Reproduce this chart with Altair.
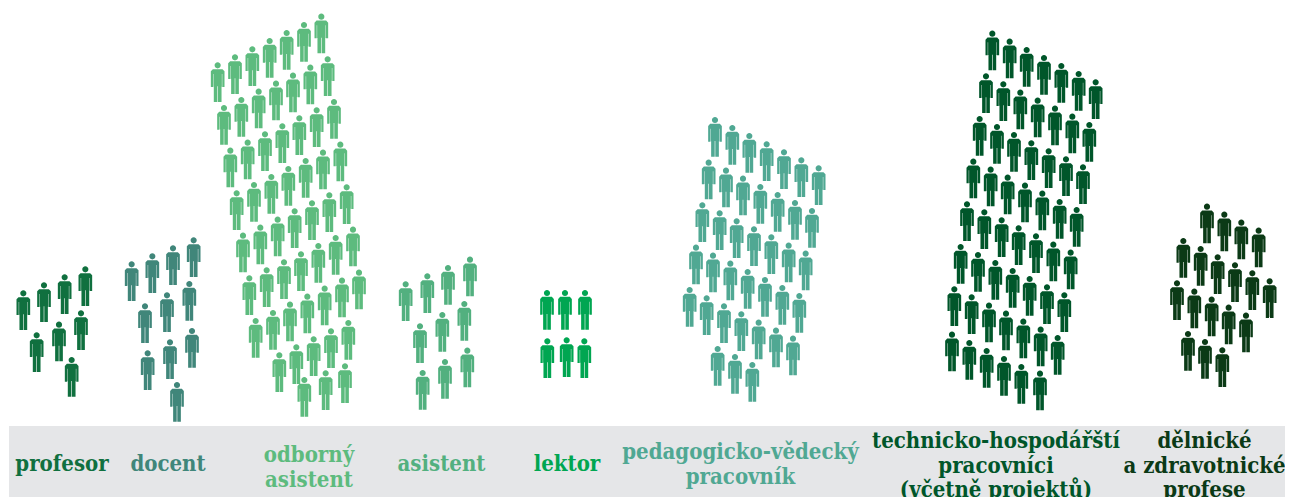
import altair as alt
import pandas as pd

# Categories, label lines, colours
categories = ["profesor", "docent", "odborný asistent", "asistent", "lektor",
              "pedagogicko-vědecký pracovník", "technicko-hospodářští pracovníci", "dělnické a zdravotnické profese"]
colors = ["#10703F", "#40867A", "#5DBB7E", "#52B07F", "#00A651", "#50A893", "#00562A", "#0B3A16"]

label_lines = [
    ("profesor", 62, 471), ("docent", 168, 471),
    ("odborný", 309, 462), ("asistent", 309, 487),
    ("asistent", 441.5, 471), ("lektor", 567, 471),
    ("pedagogicko-vědecký", 740.5, 459), ("pracovník", 740.5, 484),
    ("technicko-hospodářští", 996, 448), ("pracovníci", 996, 472.5), ("(včetně projektů)", 996, 497),
    ("dělnické", 1204.5, 448), ("a zdravotnické", 1204.5, 472.5), ("profese", 1204.5, 497),
]
label_cat = [0, 1, 2, 2, 3, 4, 5, 5, 6, 6, 6, 7, 7, 7]

profesor = ((0, 230), [(70,190),(132,166),(194,142),(256,118),(110,316),(177,284),(243,250),(215,390)])
docent = ((0, 230), [(395,103),(457,79),(519,55),(581,31),(435,229),(501,196),(568,162),(443,370),(510,337),(576,303),(531,465)])
odborny_a = ((200, 0), [(53,196),(105,172),(157,148),(209,123),(260,99),(312,75),(364,50),
                        (72,324),(124,300),(176,275),(228,251),(279,227),(331,203),(383,178),
                        (91,452),(143,428),(195,403),(247,379),(298,355),(350,331),(402,306),
                        (110,580),(162,555),(214,531),(265,507),(317,483),(369,458),(421,434)])
odborny_b = ((220, 205), [(69,92),(121,68),(173,44),(224,19),(276,-5),(328,-29),(380,-53),
                          (88,220),(140,196),(192,172),(243,148),(295,123),(347,99),(399,74),
                          (107,348),(159,324),(210,299),(262,275),(314,251),(366,227),(417,203),
                          (178,451),(229,427),(281,403),(333,379),(385,354),
                          (253,525),(317,505),(375,484)])
asistent = ((390, 250), [(47,103),(112,79),(174,54),(240,29),(90,229),(157,195),(223,162),(98,369),(165,336),(232,302)])
lektor = ((390, 250), [(471,129),(525,129),(585,129),(472,274),(530,271),(583,274)])
pedagog_a = ((670, 110), [(135,30),(187,54),(238,78),(290,103),(342,127),(394,151),(446,175),
                          (116,158),(168,182),(219,206),(271,231),(323,255),(375,279),(426,303),
                          (97,286),(149,310),(200,334),(252,358),(304,382),(356,407),(407,431)])
pedagog_b = ((670, 250), [(78,-7),(129,17),(181,41),(233,66),(285,90),(337,114),(388,138),
                          (59,120),(110,145),(162,169),(214,193),(266,218),(318,242),(369,266),
                          (143,297),(195,321),(247,345)])
technik_a = ((940, 20), [(157,41),(209,65),(260,90),(312,114),(364,138),(416,162),(467,187),
                         (138,169),(190,193),(241,218),(293,242),(345,266),(397,290),(448,315),
                         (119,297),(171,321),(222,345),(274,370),(326,394),(378,418),(429,442),
                         (100,425),(152,449),(203,473),(255,497),(307,521),(359,546),(410,570)])
technik_b = ((940, 210), [(81,-17),(133,7),(185,31),(236,55),(288,79),(340,104),(392,128),
                          (62,111),(114,135),(166,159),(218,183),(269,207),(321,232),(373,256),
                          (43,238),(95,262),(147,287),(198,311),(250,335),(302,359),(353,384),
                          (36,374),(88,399),(140,423),(192,447),(244,471),(300,491)])
delnicke = ((1160, 195), [(141,35),(193,59),(244,83),(296,107),
                          (70,138),(122,162),(173,187),(225,211),(277,235),(329,259),
                          (51,265),(103,290),(155,314),(206,338),(258,362),
                          (84,417),(135,441),(187,466)])

groups = [(0, profesor), (1, docent), (2, odborny_a), (2, odborny_b), (3, asistent), (4, lektor),
          (5, pedagog_a), (5, pedagog_b), (6, technik_a), (6, technik_b), (7, delnicke)]

rows = []
for cat, ((ox, oy), pts) in groups:
    for zx, zy in pts:
        rows.append({"cat": categories[cat], "x": ox + zx / 3, "y": oy + zy / 3 + 17})
people = pd.DataFrame(rows)

labels = pd.DataFrame([
    {"text": t, "x": x, "y": y, "cat": categories[c]}
    for (t, x, y), c in zip(label_lines, label_cat)
])
band = pd.DataFrame([{"x": 9, "x2": 1285, "y": 426, "y2": 497}])

# Pictogram of a standing person, unit square [-1, 1]
k = 1 / 60
def P(x, y):
    return f"{x*k:.4f},{y*k:.4f}"
hr, hy, c = 9.2, -51, 5.1
head = (f"M{P(0,hy-hr)}C{P(c,hy-hr)} {P(hr,hy-c)} {P(hr,hy)}C{P(hr,hy+c)} {P(c,hy+hr)} {P(0,hy+hr)}"
        f"C{P(-c,hy+hr)} {P(-hr,hy+c)} {P(-hr,hy)}C{P(-hr,hy-c)} {P(-c,hy-hr)} {P(0,hy-hr)}Z")
def side(s):
    return [(s*14.5,-39.5),(s*20.5,-33),(s*20.5,14),(s*13.8,14),(s*13.8,-25),(s*12.6,-25),
            (s*12.6,13),(s*11.6,13),(s*11.6,59),(s*0.9,59),(s*0.9,12)]
right = side(1)
left = [(-x, y) for x, y in reversed(side(1))]
body = "M" + "L".join(P(x, y) for x, y in right + left) + "Z"
PERSON = head + body

color_scale = alt.Scale(domain=categories, range=colors)
X = alt.Scale(domain=[8, 1285], range=[0, 1277])
Y = alt.Scale(domain=[8, 497], range=[0, 489])

band_layer = alt.Chart(band).mark_rect(color="#E5E6E8").encode(
    x=alt.X("x:Q", scale=X, axis=None), x2="x2:Q",
    y=alt.Y("y:Q", scale=Y, axis=None), y2="y2:Q")

people_layer = alt.Chart(people).mark_point(shape=PERSON, filled=True, size=1600, opacity=1, strokeWidth=0).encode(
    x=alt.X("x:Q", scale=X, axis=None),
    y=alt.Y("y:Q", scale=Y, axis=None),
    color=alt.Color("cat:N", scale=color_scale, legend=None))

label_layer = alt.Chart(labels).mark_text(
    font="DejaVu Serif Condensed", fontWeight="bold", fontSize=22, align="center", baseline="alphabetic"
).encode(
    x=alt.X("x:Q", scale=X, axis=None),
    y=alt.Y("y:Q", scale=Y, axis=None),
    text="text:N",
    color=alt.Color("cat:N", scale=color_scale, legend=None))

chart = (band_layer + people_layer + label_layer).properties(
    width=1277, height=489, padding=0, autosize=alt.AutoSizeParams(type="none"), background="white"
).configure_view(stroke=None)

chart.save("out.html", embed_options={"renderer": "svg", "actions": False})
